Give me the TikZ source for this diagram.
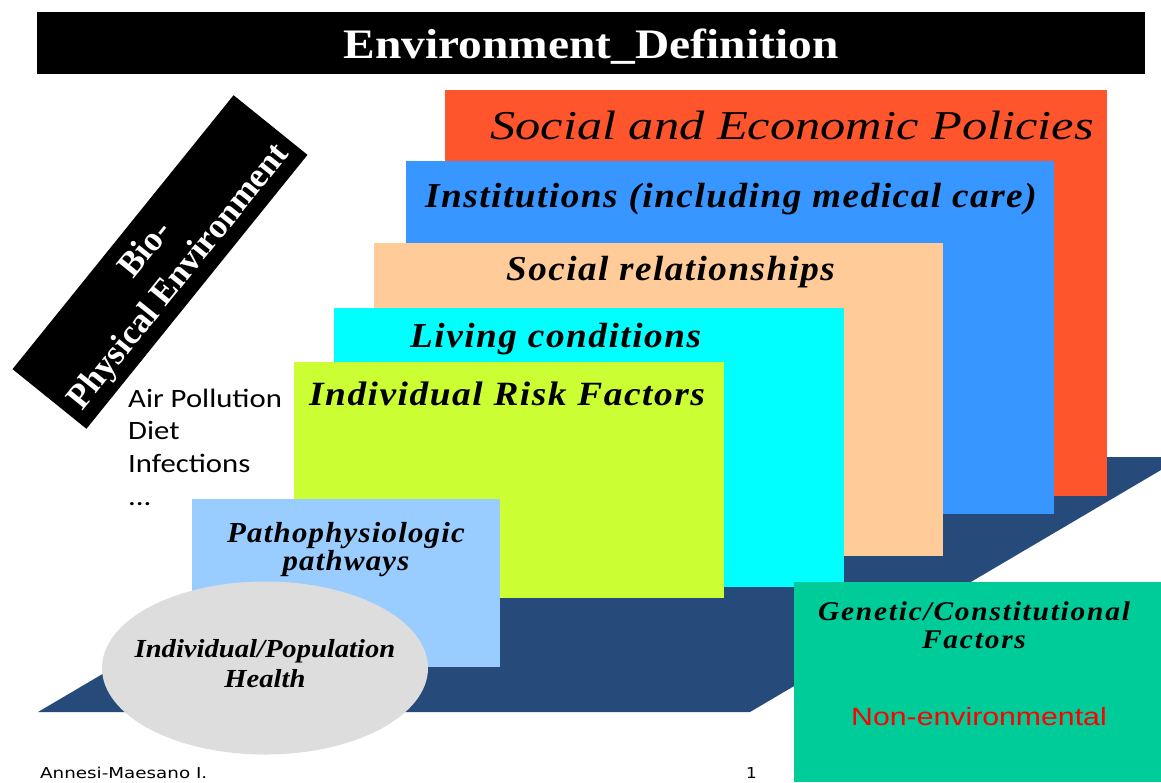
\documentclass[tikz,border=0pt]{standalone}
\usepackage{fontspec}
\usetikzlibrary{shapes.geometric}
\setmainfont{Liberation Serif}
\setsansfont{Liberation Sans}
\newfontfamily\calib{Carlito}
\newfontfamily\verd{DejaVu Sans}
\definecolor{floorblue}{RGB}{38,74,122}
\definecolor{secorange}{RGB}{255,85,45}
\definecolor{instblue}{RGB}{55,150,255}
\definecolor{peach}{RGB}{255,204,153}
\definecolor{cyanbox}{RGB}{0,255,255}
\definecolor{lime}{RGB}{204,255,51}
\definecolor{lightblue}{RGB}{153,204,255}
\definecolor{ellgray}{RGB}{221,221,221}
\definecolor{genegreen}{RGB}{0,204,153}
\definecolor{listink}{RGB}{25,25,60}
\tikzset{
  panel/.style={fill=#1, draw=none, inner sep=0pt, anchor=north west},
  lab/.style={font=#1, text=black, inner sep=0pt},
}
\newcommand{\fsz}[1]{\fontsize{#1}{#1}\selectfont}
\newcommand{\sx}[2]{\scalebox{#1}[1]{#2}}
\newcommand{\bisp}{\bfseries\itshape\addfontfeature{LetterSpace=4}}
\begin{document}
\begin{tikzpicture}[x=1pt,y=-1pt]
\useasboundingbox (0,0) rectangle (1161,782);
\fill[white] (0,0) rectangle (1161,782);
% title bar
\node[panel=black, minimum width=1108, minimum height=62] (bar) at (37,12) {};
\node[text=white, inner sep=0pt, anchor=base, font=\fsz{42}\bfseries] (title) at (591,58) {\sx{1.13}{Environment\_Definition}};
% floor
\fill[floorblue] (38,712) -- (750,712) -- (1161,470) -- (1161,457) -- (471,457) -- cycle;
% panels
\node[panel=secorange, minimum width=662, minimum height=406] (sep) at (445,90) {};
\node[panel=instblue, minimum width=648, minimum height=353] (inst) at (406,161) {};
\node[panel=peach, minimum width=569, minimum height=313] (soc) at (374,243) {};
\node[panel=cyanbox, minimum width=510, minimum height=279] (liv) at (334,308) {};
\node[panel=lime, minimum width=430, minimum height=236] (irf) at (294,362) {};
\node[panel=lightblue, minimum width=308, minimum height=168] (path) at (192,499) {};
\node[fill=ellgray, ellipse, minimum width=326, minimum height=173, inner sep=0pt] (health) at (265,668) {};
\node[panel=genegreen, minimum width=367, minimum height=200] (gene) at (794,582) {};
% labels
\node[lab=\fsz{41}\itshape, anchor=base west] (tsep) at (490,139) {\sx{1.23}{Social and Economic Policies}};
\node[lab=\fsz{35}\bisp, anchor=base west] (tinst) at (425,207) {\sx{1.065}{Institutions (including medical care)}};
\node[lab=\fsz{35}\bisp, anchor=base west] (tsoc) at (506,280) {\sx{1.06}{Social relationships}};
\node[lab=\fsz{35}\bisp, anchor=base west] (tliv) at (410,347) {\sx{1.066}{Living conditions}};
\node[lab=\fsz{34}\bisp, anchor=base west] (tirf) at (309,405) {\sx{1.1}{Individual Risk Factors}};
\node[lab=\fsz{29}\bisp, anchor=base] (tpath1) at (346,542) {\sx{1.063}{Pathophysiologic}};
\node[lab=\fsz{29}\bisp, anchor=base] (tpath2) at (346,570) {\sx{1.063}{pathways}};
\node[lab=\fsz{26}\bfseries\itshape, anchor=base] (th1) at (265,657) {\sx{1.10}{Individual/Population}};
\node[lab=\fsz{26}\bfseries\itshape, anchor=base] (th2) at (265,687) {\sx{1.10}{Health}};
\node[lab=\fsz{27}\bfseries\itshape\addfontfeature{LetterSpace=6}, anchor=base] (tg1) at (974,620) {\sx{1.09}{Genetic/Constitutional}};
\node[lab=\fsz{27}\bfseries\itshape\addfontfeature{LetterSpace=6}, anchor=base] (tg2) at (974,648) {\sx{1.09}{Factors}};
\node[text=red, inner sep=0pt, font=\sffamily\fsz{25}, anchor=base] (tnon) at (979,725) {\sx{1.21}{Non-environmental}};
% side list
\node[lab=\calib\fsz{26.5}\color{listink}, anchor=base west] (l1) at (128,407) {\sx{1.16}{Air Pollution}};
\node[lab=\calib\fsz{26.5}\color{listink}, anchor=base west] (l2) at (128,439) {\sx{1.16}{Diet}};
\node[lab=\calib\fsz{26.5}\color{listink}, anchor=base west] (l3) at (128,472) {\sx{1.16}{Infections}};
\node[lab=\calib\fsz{26.5}\color{listink}, anchor=base west] (l4) at (128,505) {\sx{1.16}{...}};
% rotated box
\node[fill=black, rotate=51.1, minimum width=352, minimum height=95, inner sep=0pt] (bio) at (160,262) {};
\node[text=white, rotate=51.1, inner sep=0pt, align=center, font=\fsz{35}\bfseries] (biotext) at (163,264) {Bio-\\[8pt]Physical Environment};
% footer
\node[lab=\verd\fsz{15}\color{listink}, anchor=base west] (auth) at (40,778) {\sx{1.22}{Annesi-Maesano I.}};
\node[lab=\verd\fsz{15}\color{listink}, anchor=base west] (pg) at (746,778) {\sx{1.12}{1}};
\end{tikzpicture}
\end{document}
